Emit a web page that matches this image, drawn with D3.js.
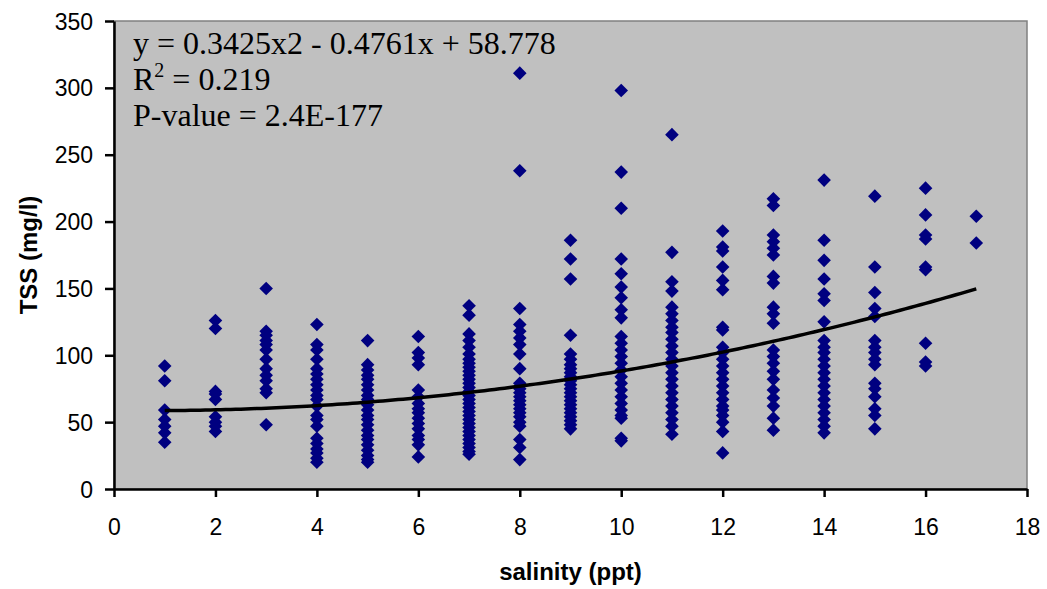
<!DOCTYPE html>
<html>
<head>
<meta charset="utf-8">
<script src="https://cdn.jsdelivr.net/npm/d3@7/dist/d3.min.js"></script>
<style>
  html, body { margin: 0; padding: 0; background: #ffffff; }
  svg { display: block; }
</style>
</head>
<body>
<svg id="chart" width="1047" height="589"></svg>
<script>
// ---- data ----
const xTicks = [0, 2, 4, 6, 8, 10, 12, 14, 16, 18];
const yTicks = [0, 50, 100, 150, 200, 250, 300, 350];
const salinity = [1, 2, 3, 4, 5, 6, 7, 8, 9, 10, 11, 12, 13, 14, 15, 16, 17];
const tss1 = [92, 81, 59, 52, 47, 42, 35];
const tss2 = [126, 120, 73, 71, 67, 54, 50, 47, 43];
const tss3 = [150, 118, 115, 111, 108, 104, 97, 90, 85, 81, 75, 72, 48];
const tss4 = [123, 108, 104, 97, 90, 86, 82, 78, 74, 70, 67, 62, 55, 52, 47, 38, 34, 30, 27, 23, 20];
const tss5 = [111, 93, 89, 85, 82, 78, 74, 70, 67, 63, 59, 55, 52, 48, 44, 40, 37, 33, 29, 25, 22, 20];
const tss6 = [114, 102, 98, 93, 74, 69, 64, 60, 57, 53, 49, 45, 40, 37, 33, 24];
const tss7 = [137, 130, 116, 111, 106, 101, 97, 94, 91, 88, 85, 82, 79, 76, 73, 70, 67, 64, 61, 58, 55, 52, 49, 46, 43, 40, 37, 34, 31, 28, 26];
const tss8 = [311, 238, 135, 123, 118, 113, 108, 101, 90, 79, 75, 72, 69, 66, 63, 60, 57, 54, 50, 47, 37, 31, 22];
const tss9 = [186, 172, 157, 115, 101, 97, 93, 90, 87, 84, 81, 78, 75, 72, 69, 66, 63, 60, 57, 54, 51, 48, 45];
const tss10 = [298, 237, 210, 172, 161, 151, 143, 134, 128, 114, 109, 104, 99, 94, 89, 84, 79, 74, 69, 64, 59, 55, 53, 38, 36];
const tss11 = [265, 177, 155, 148, 136, 131, 126, 121, 117, 112, 107, 102, 97, 92, 87, 82, 77, 72, 67, 62, 57, 52, 47, 41];
const tss12 = [193, 181, 178, 166, 156, 149, 121, 119, 106, 102, 97, 92, 87, 82, 77, 72, 67, 62, 59, 55, 50, 43, 27];
const tss13 = [217, 212, 190, 185, 180, 175, 159, 154, 136, 131, 124, 104, 99, 94, 88, 82, 74, 68, 62, 53, 44];
const tss14 = [231, 186, 171, 157, 146, 141, 125, 111, 106, 102, 97, 92, 87, 82, 77, 72, 67, 62, 57, 52, 47, 42];
const tss15 = [219, 166, 147, 135, 129, 111, 106, 102, 97, 93, 79, 75, 69, 60, 55, 45];
const tss16 = [225, 205, 190, 187, 166, 164, 109, 95, 92];
const tss17 = [204, 184];
const tssBySalinity = [tss1, tss2, tss3, tss4, tss5, tss6, tss7, tss8, tss9, tss10, tss11, tss12, tss13, tss14, tss15, tss16, tss17];
// polynomial trendline coefficients (from the chart's equation)
const trendCoef = [58.778, -0.4761, 0.3425]; // c0, c1, c2
const trendRange = [1, 17];
const annotationLines = ["y = 0.3425x2 - 0.4761x + 58.778", "R", "P-value = 2.4E-177"];

// ---- layout ----
const padL = 114, padT = 21, padR = 1027, padB = 489;
const svg = d3.select("#chart");

const x = d3.scaleLinear().domain([0, 18]).range([padL, padR]);
const y = d3.scaleLinear().domain([0, 350]).range([padB, padT]);

// plot area
svg.append("rect")
  .attr("x", padL).attr("y", padT)
  .attr("width", padR - padL).attr("height", padB - padT)
  .attr("fill", "#C0C0C0")
  .attr("stroke", "#808080").attr("stroke-width", 1.5);

// points
const pts = [];
salinity.forEach((s, i) => tssBySalinity[i].forEach(v => pts.push({s, v})));
const r = 6.8;
svg.append("g").selectAll("path")
  .data(pts).enter().append("path")
  .attr("d", d => {
    const cx = x(d.s), cy = y(d.v);
    return `M${cx},${cy - r}L${cx + r},${cy}L${cx},${cy + r}L${cx - r},${cy}Z`;
  })
  .attr("fill", "#000080");

// trendline
const trendX = d3.range(trendRange[0], trendRange[1] + 0.001, 0.1);
const trendFn = t => trendCoef[0] + trendCoef[1] * t + trendCoef[2] * t * t;
svg.append("path")
  .datum(trendX)
  .attr("d", d3.line().x(t => x(t)).y(t => y(trendFn(t))))
  .attr("fill", "none")
  .attr("stroke", "#000")
  .attr("stroke-width", 3.5);

// axes
const xAxis = svg.append("g")
  .attr("transform", `translate(0,${padB})`)
  .call(d3.axisBottom(x).tickValues(xTicks).tickSize(8).tickSizeOuter(0).tickPadding(22));
const yAxis = svg.append("g")
  .attr("transform", `translate(${padL},0)`)
  .call(d3.axisLeft(y).tickValues(yTicks).tickSize(9).tickSizeOuter(0).tickPadding(12));
[xAxis, yAxis].forEach(a => {
  a.select(".domain").attr("stroke", "#000").attr("stroke-width", 2.5);
  a.selectAll(".tick line").attr("stroke", "#000").attr("stroke-width", 2.5);
  a.selectAll(".tick text")
    .attr("font-family", "'Liberation Sans', Arial, sans-serif")
    .attr("font-size", 23).attr("fill", "#000");
});
yAxis.selectAll(".tick text").attr("dy", "0.35em");

// axis titles
svg.append("text")
  .attr("x", (padL + padR) / 2).attr("y", 580)
  .attr("text-anchor", "middle")
  .attr("font-family", "'Liberation Sans', Arial, sans-serif")
  .attr("font-weight", "bold").attr("font-size", 24)
  .text("salinity (ppt)");
svg.append("text")
  .attr("transform", `translate(37,${(padT + padB) / 2}) rotate(-90)`)
  .attr("text-anchor", "middle")
  .attr("font-family", "'Liberation Sans', Arial, sans-serif")
  .attr("font-weight", "bold").attr("font-size", 24)
  .text("TSS (mg/l)");

// annotation
const ann = svg.append("g")
  .attr("font-family", "'Liberation Serif', 'Times New Roman', serif")
  .attr("font-size", 32).attr("fill", "#000");
ann.append("text").attr("x", 133).attr("y", 54).text(annotationLines[0]);
const r2 = ann.append("text").attr("x", 133).attr("y", 90);
r2.append("tspan").text(annotationLines[1]);
r2.append("tspan").attr("font-size", 20).attr("dy", -13).text("2");
r2.append("tspan").attr("dy", 13).text(" = 0.219");
ann.append("text").attr("x", 133).attr("y", 126).text(annotationLines[2]);
</script>
</body>
</html>
